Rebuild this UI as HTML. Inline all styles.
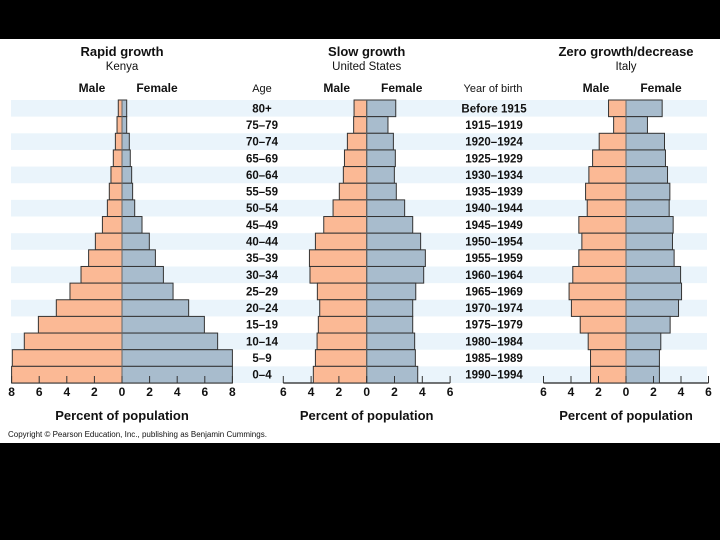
<!DOCTYPE html>
<html><head><meta charset="utf-8"><style>
body{margin:0;background:#000;width:720px;height:540px;overflow:hidden}
svg{display:block}
text{font-family:"Liberation Sans",Arial,sans-serif;font-weight:bold;fill:#111}
</style></head><body>
<svg id="c" width="720" height="540">
<rect x="0" y="39" width="720" height="404" fill="#fff"/>
<g id="g"></g>
</svg>
<script>
const ages=["80+","75–79","70–74","65–69","60–64","55–59","50–54","45–49","40–44","35–39","30–34","25–29","20–24","15–19","10–14","5–9","0–4"];
const births=["Before 1915","1915–1919","1920–1924","1925–1929","1930–1934","1935–1939","1940–1944","1945–1949","1950–1954","1955–1959","1960–1964","1965–1969","1970–1974","1975–1979","1980–1984","1985–1989","1990–1994"];
const kenyaMale=[0.27,0.36,0.48,0.63,0.8,0.92,1.06,1.42,1.93,2.42,2.97,3.77,4.76,6.06,7.08,7.95,8.0];
const kenyaFemale=[0.34,0.34,0.53,0.6,0.7,0.77,0.92,1.45,1.98,2.42,3.0,3.7,4.83,5.97,6.93,8.0,8.0];
const usMale=[0.91,0.94,1.39,1.6,1.68,1.97,2.42,3.09,3.69,4.12,4.08,3.55,3.38,3.48,3.57,3.69,3.84];
const usFemale=[2.09,1.53,1.92,2.06,1.99,2.13,2.73,3.31,3.88,4.22,4.1,3.53,3.31,3.31,3.45,3.5,3.67];
const italyMale=[1.27,0.9,1.95,2.43,2.7,2.94,2.82,3.43,3.21,3.43,3.87,4.14,3.97,3.33,2.75,2.58,2.58];
const italyFemale=[2.63,1.56,2.8,2.87,3.02,3.19,3.14,3.43,3.38,3.5,3.97,4.04,3.82,3.21,2.53,2.43,2.43];
const kenyaTicks=[8,6,4,2,0,2,4,6,8];
const otherTicks=[6,4,2,0,2,4,6];

const NS="http://www.w3.org/2000/svg";
const g=document.getElementById('g');
function el(t,a,txt){const e=document.createElementNS(NS,t);for(const k in a)e.setAttribute(k,a[k]);if(txt!==undefined)e.textContent=txt;g.appendChild(e);return e;}
const top0=100,rowH=(383-100)/17;
function rowY(i){return top0+i*rowH;}
// stripes
for(let i=0;i<17;i+=2){
  const s=el('rect',{x:11,y:rowY(i),width:696,height:rowH,fill:'#eaf4fb'});
  
  
}
const panels=[
 {name:'kenya',title:'Rapid growth',sub:'Kenya',zero:122,unit:13.8,max:8,male:kenyaMale,female:kenyaFemale,ticks:kenyaTicks,tstep:2},
 {name:'us',title:'Slow growth',sub:'United States',zero:366.7,unit:13.9,max:6,male:usMale,female:usFemale,ticks:otherTicks,tstep:2},
 {name:'italy',title:'Zero growth/decrease',sub:'Italy',zero:626,unit:13.75,max:6,male:italyMale,female:italyFemale,ticks:otherTicks,tstep:2}
];
panels.forEach(p=>{
  const x=v=>p.zero+v*p.unit;
  let t=el('text',{x:p.zero,y:56,'text-anchor':'middle','font-size':13},p.title);
  
  t=el('text',{x:p.zero,y:70,'text-anchor':'middle','font-size':11.5,style:'font-weight:normal'},p.sub);
  
  t=el('text',{x:p.zero-30,y:92,'text-anchor':'middle','font-size':12},'Male');
  
  t=el('text',{x:p.zero+35,y:92,'text-anchor':'middle','font-size':12},'Female');
  
  // axis
  const ax=el('line',{x1:x(-p.max),x2:x(p.max),y1:383,y2:383,stroke:'#222','stroke-width':1.2});
  
  p.male.forEach((v,i)=>{
    const r=el('rect',{x:x(-v),y:rowY(i),width:v*p.unit,height:rowH,fill:'#fbb995',stroke:'#333','stroke-width':1});
    
  });
  p.female.forEach((v,i)=>{
    const r=el('rect',{x:x(0),y:rowY(i),width:v*p.unit,height:rowH,fill:'#a8bccd',stroke:'#333','stroke-width':1});
    
  });
  const z=el('line',{x1:x(0),x2:x(0),y1:top0,y2:383,stroke:'#666','stroke-width':1});
  
  const n=p.ticks.length;
  p.ticks.forEach((tv,i)=>{
    const val=-p.max+i*p.tstep;
    const tk=el('line',{x1:x(val),x2:x(val),y1:376,y2:383,stroke:'#333','stroke-width':1});
    
    const tl=el('text',{x:x(val),y:396,'text-anchor':'middle','font-size':12},tv);
    
  });
  t=el('text',{x:p.zero,y:420,'text-anchor':'middle','font-size':13},'Percent of population');
  
});
let h=el('text',{x:262,y:92,'text-anchor':'middle','font-size':11,style:'font-weight:normal'},'Age');

h=el('text',{x:493,y:92,'text-anchor':'middle','font-size':11,style:'font-weight:normal'},'Year of birth');

ages.forEach((a,i)=>{
  const t=el('text',{x:262,y:rowY(i)+rowH/2+4,'text-anchor':'middle','font-size':11.5},a);
  
});
births.forEach((b,i)=>{
  const t=el('text',{x:494,y:rowY(i)+rowH/2+4,'text-anchor':'middle','font-size':11.5},b);
  
});
h=el('text',{x:8,y:437,'font-size':8,style:'font-weight:normal'},'Copyright © Pearson Education, Inc., publishing as Benjamin Cummings.');

</script>
</body></html>
